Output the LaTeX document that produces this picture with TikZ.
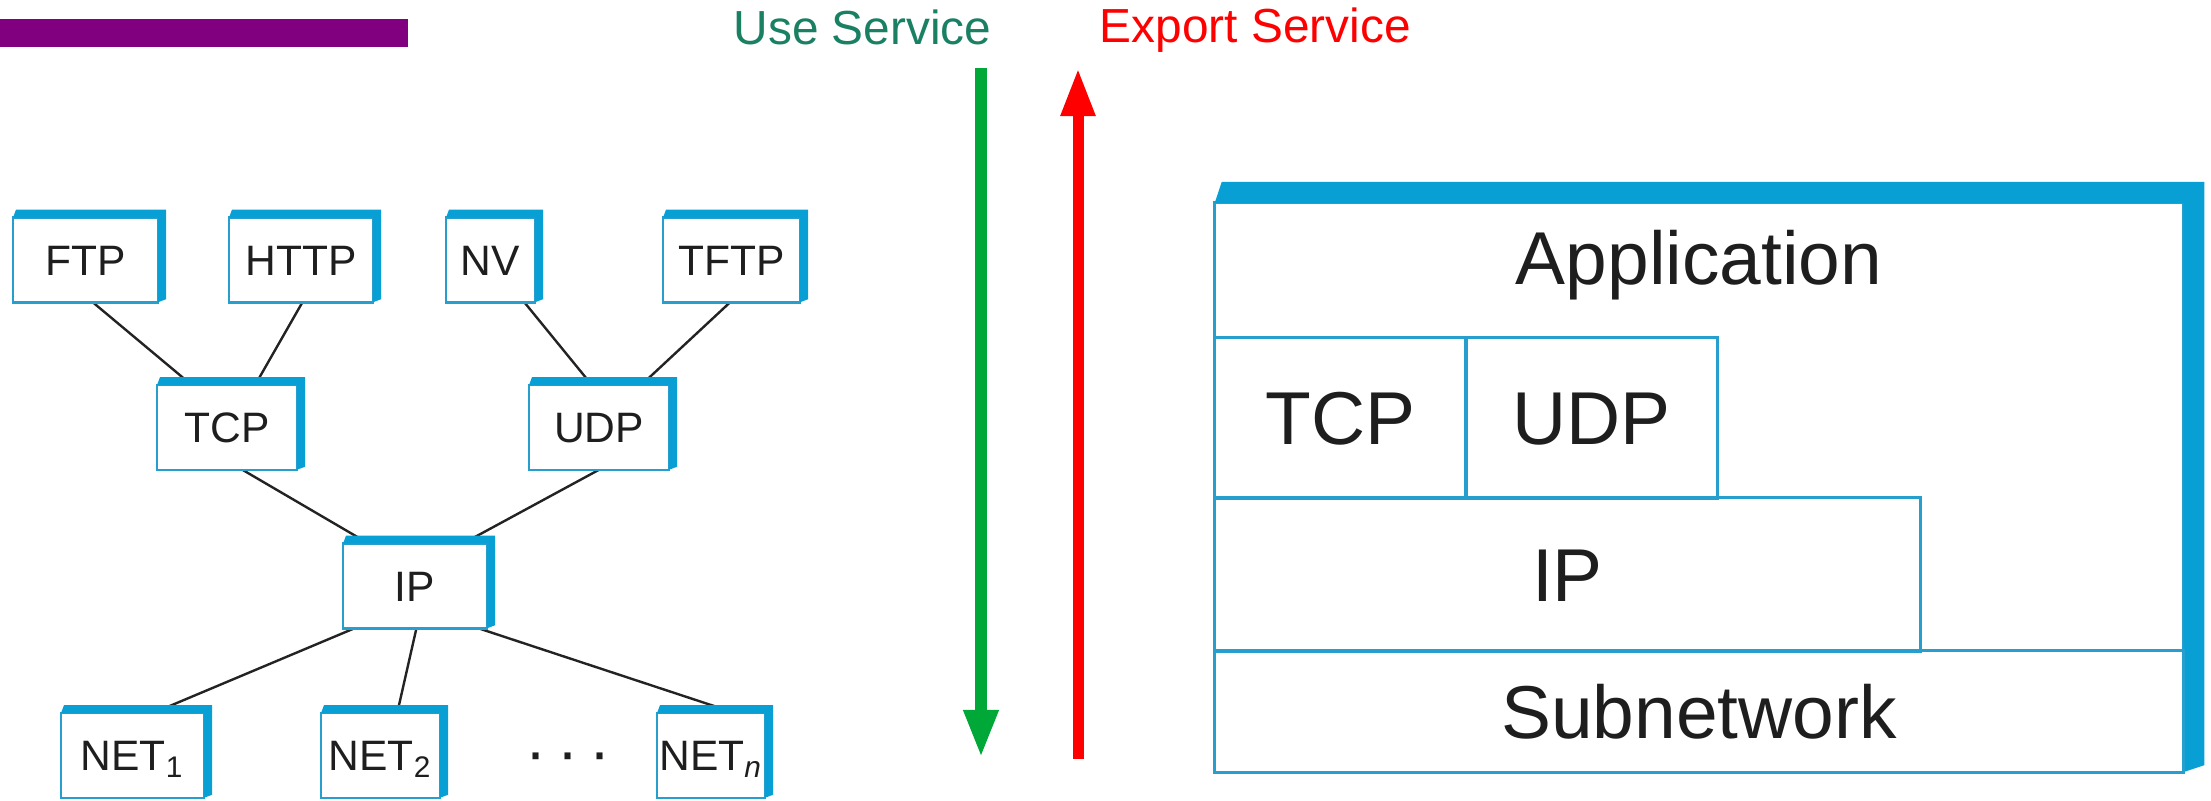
\documentclass[tikz,border=0pt]{standalone}
\usepackage{fontspec}
\setmainfont{Liberation Sans}
\usetikzlibrary{calc,arrows.meta,backgrounds}

\definecolor{boxblue}{RGB}{8,160,212}
\definecolor{boxline}{RGB}{38,158,206}
\definecolor{linkgray}{RGB}{35,35,35}
\definecolor{labeltext}{RGB}{30,30,30}
\definecolor{usegreen}{RGB}{26,128,100}
\definecolor{arrowgreen}{RGB}{0,168,55}
\definecolor{exportred}{RGB}{255,0,0}
\definecolor{barpurple}{RGB}{128,0,128}

% solid blue top/right faces of a box node: #1 node, #2 depth, #3 chamfer
\newcommand\solidband[3]{%
  \fill[boxblue] (#1.north west) -- ++(#3,-#2) -- ($(#1.north east)+(#2,-#2)$)
    -- ($(#1.south east)+(#2,-#3)$) -- (#1.south east) -- (#1.north east) -- cycle;}

\newcommand\treefont{\fontsize{12.1pt}{14pt}\selectfont}
\newcommand\layerfont{\fontsize{21.3pt}{25pt}\selectfont}
\newcommand\topfont{\fontsize{13.6pt}{16pt}\selectfont}

\begin{document}
\begin{tikzpicture}[x=0.01cm,y=-0.01cm,
  tbox/.style={draw=boxline, line width=0.025cm, fill=white, inner sep=0pt,
    outer sep=0pt, minimum height=0.845cm, font=\treefont, text=labeltext,
    text height=8.7pt, text depth=0pt},
  cell/.style={draw=boxline, line width=0.03cm, inner sep=0pt, outer sep=0pt,
    font=\layerfont, text=labeltext, text height=15.3pt, text depth=0pt},
  link/.style={draw=linkgray, line width=0.024cm},
  bigarrow/.style={line width=0.12cm, -{Triangle[width=0.32cm,length=0.48cm]}}]

\useasboundingbox (0,0) rectangle (2211,801);

% title bar
\fill[barpurple] (0,19) rectangle (408,47);

% protocol graph
\node[tbox, minimum width=1.45cm] (ftp)  at (85.5,260)  {FTP};
\node[tbox, minimum width=1.44cm] (http) at (301,260)   {HTTP};
\node[tbox, minimum width=0.89cm] (nv)   at (490.5,260) {NV};
\node[tbox, minimum width=1.37cm] (tftp) at (731.5,260) {TFTP};
\node[tbox, minimum width=1.40cm] (tcp)  at (227,427.5) {TCP};
\node[tbox, minimum width=1.40cm] (udp)  at (599,427.5) {UDP};
\node[tbox, minimum width=1.44cm] (ip)   at (415,586)   {IP};
\node[tbox, minimum width=1.43cm] (net1) at (132.5,755.5) {NET\textsubscript{1}};
\node[tbox, minimum width=1.19cm] (net2) at (380.5,755.5) {NET\textsubscript{2}};
\node[tbox, minimum width=1.08cm] (netn) at (711,755.5)   {NET\textsubscript{\itshape n}};
\node[font=\fontsize{18pt}{20pt}\selectfont, text=labeltext, inner sep=0pt] (dots) at (568,763) {·\,·\,·};

\foreach \n in {ftp,http,nv,tftp,tcp,udp,ip,net1,net2,netn}{\solidband{\n}{8}{3}}

\begin{scope}[on background layer]
  \draw[link] ($(ftp.south west)!0.55!(ftp.south east)$)   -- ($(tcp.north west)!0.25!(tcp.north east)$);
  \draw[link] ($(http.south west)!0.51!(http.south east)$) -- ($(tcp.north west)!0.70!(tcp.north east)$);
  \draw[link] ($(nv.south west)!0.88!(nv.south east)$)     -- ($(udp.north west)!0.45!(udp.north east)$);
  \draw[link] ($(tftp.south west)!0.49!(tftp.south east)$) -- ($(udp.north west)!0.80!(udp.north east)$);
  \draw[link] ($(tcp.south west)!0.61!(tcp.south east)$)   -- ($(ip.north west)!0.18!(ip.north east)$);
  \draw[link] ($(udp.south west)!0.50!(udp.south east)$)   -- ($(ip.north west)!0.83!(ip.north east)$);
  \draw[link] ($(ip.south west)!0.08!(ip.south east)$)     -- ($(net1.north west)!0.64!(net1.north east)$);
  \draw[link] ($(ip.south west)!0.51!(ip.south east)$)     -- ($(net2.north west)!0.64!(net2.north east)$);
  \draw[link] ($(ip.south west)!0.94!(ip.south east)$)     -- ($(netn.north west)!0.73!(netn.north east)$);
\end{scope}

% service direction arrows
\node[anchor=base west, inner sep=0pt, font=\topfont, text=usegreen] (usetxt) at (733,45) {Use Service};
\node[anchor=base west, inner sep=0pt, font=\topfont, text=exportred] (exptxt) at (1099,43) {Export Service};
\coordinate (usetop) at (981,68);
\coordinate (usebot) at (981,758);
\coordinate (exptop) at (1078,68);
\coordinate (expbot) at (1078,759);
\draw[bigarrow, arrowgreen] (usetop) -- (usebot);
\draw[bigarrow, exportred, line width=0.11cm] (expbot) -- (exptop);

% layered stack
\node[cell, fill=white, minimum width=9.68cm, minimum height=5.69cm] (stack) at (1699,487.5) {};
\solidband{stack}{21}{7}
\node[cell, minimum width=2.51cm, minimum height=1.60cm] (ltcp) at (1340.5,418) {TCP};
\node[cell, minimum width=2.51cm, minimum height=1.60cm] (ludp) at (1591.5,418) {UDP};
\node[cell, minimum width=7.05cm, minimum height=1.53cm] (lip)  at (1567.5,574.5) {IP};
\node[cell, minimum width=9.68cm, minimum height=1.21cm] (lsub) at (1699,711.5) {Subnetwork};
\node[font=\layerfont, text=labeltext, inner sep=0pt, text height=15.3pt, text depth=0pt] (lapp) at (1699,258) {Application};

\end{tikzpicture}
\end{document}
